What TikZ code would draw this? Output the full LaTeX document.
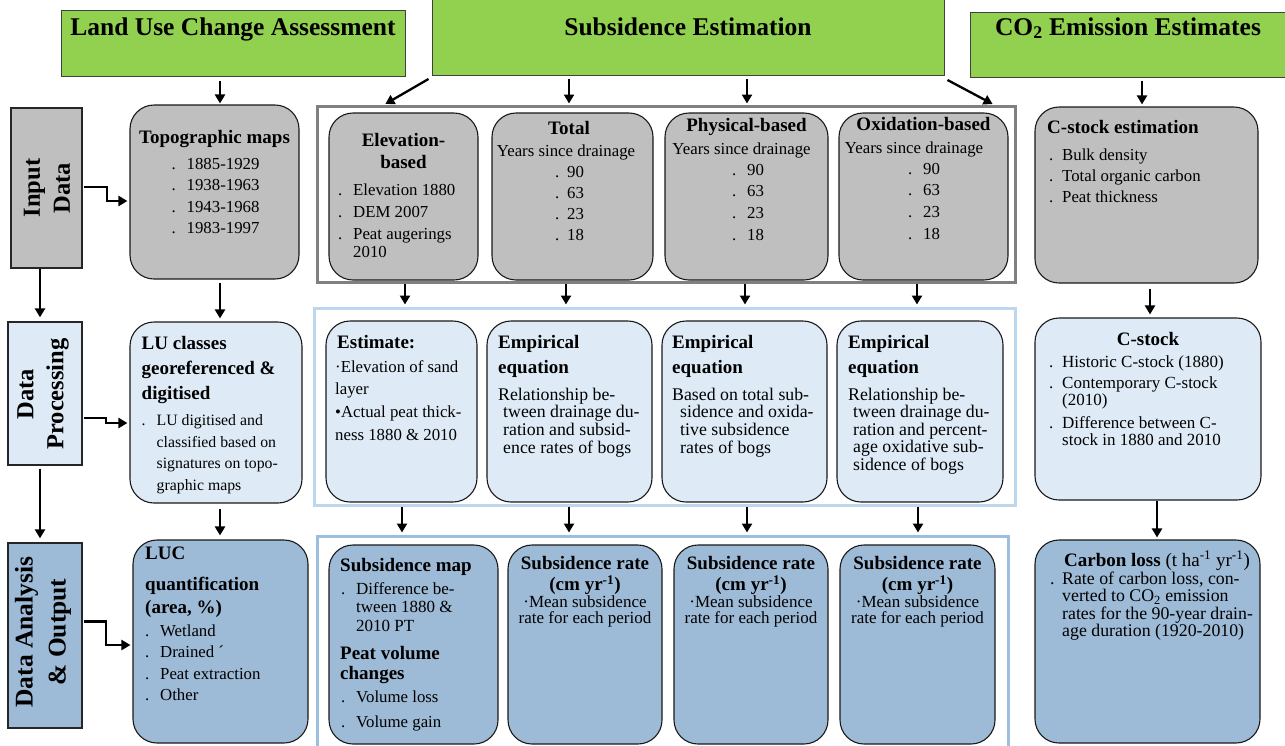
\documentclass[tikz,border=0pt]{standalone}
\usepackage{fontspec}
\setmainfont{Liberation Serif}
\usetikzlibrary{arrows.meta,calc}
\definecolor{hdrgreen}{HTML}{92D050}
\definecolor{boxgray}{HTML}{BFBFBF}
\definecolor{boxlight}{HTML}{DEEBF7}
\definecolor{boxblue}{HTML}{9DBAD6}
\definecolor{framegray}{HTML}{808080}
\definecolor{framelight}{HTML}{BDD7EE}
\definecolor{frameblue}{HTML}{9CBEDF}
\newcommand{\fb}{\fontsize{16.8}{21.5}\selectfont}
\newcommand{\fp}{\fontsize{17.8}{17}\selectfont}
\newcommand{\fsub}{\fontsize{19}{25}\selectfont\bfseries}
\newcommand{\fhead}{\fontsize{25.5}{30}\selectfont\bfseries}
\newcommand{\frow}{\fontsize{24.5}{30}\selectfont\bfseries}
\newcommand{\dotb}[1][15pt]{\makebox[#1][l]{.}}
\newcommand{\TL}[1]{\begin{tabular}[t]{@{}l@{}}#1\end{tabular}}
\newcommand{\TC}[1]{\begin{tabular}[t]{@{}c@{}}#1\end{tabular}}
\begin{document}
\begin{tikzpicture}[x=1pt,y=-1pt,
  hdr/.style={draw=black!75, fill=hdrgreen, line width=1pt, inner sep=0pt},
  lbl/.style={draw=black!85, line width=1.3pt, inner sep=0pt},
  rbox/.style={draw=black!90, rounded corners=24pt, line width=1.1pt, inner sep=0pt},
  graybox/.style={fill=boxgray},
  lightbox/.style={fill=boxlight},
  bluebox/.style={fill=boxblue},
  frm/.style={line width=3pt, inner sep=0pt},
  arr/.style={line width=2.3pt, -{Triangle[length=9pt,width=10pt]}},
  ht/.style={font=\fhead, inner sep=0pt, anchor=base},
  rowt/.style={font=\frow, rotate=90, align=center, inner sep=0pt},
  tl/.style={inner sep=0pt, anchor=base west},
  tc/.style={inner sep=0pt, anchor=base}]
\useasboundingbox (0,0) rectangle (1285,745);
\fill[white] (0,0) rectangle (1285,745);

% headers
\node[hdr, minimum width=344pt, minimum height=66pt] (h1) at (233,43) {};
\node[hdr, minimum width=512pt, minimum height=77pt] (hsub) at (688,37) {};
\node[hdr, minimum width=316pt, minimum height=65pt] (hco2) at (1128,44.5) {};
\node[ht] (h1t) at (233,35) {Land Use Change Assessment};
\node[ht] (hsubt) at (688,35) {Subsidence Estimation};
\node[ht] (hco2t) at (1128,35) {CO\textsubscript{2} Emission Estimates};

% row labels
\node[lbl, graybox, minimum width=71pt, minimum height=160pt] (inp) at (46.5,188) {};
\node[rowt] (inpt) at (47,188) {Input\\Data};
\node[lbl, lightbox, minimum width=74pt, minimum height=143pt] (dp) at (45,393.5) {};
\node[rowt] (dpt) at (43,394) {Data\\Processing};
\node[lbl, bluebox, minimum width=74pt, minimum height=185pt] (da) at (45,635.5) {};
\node[rowt, font=\fontsize{25.5}{33}\selectfont\bfseries] (dat) at (43,632) {Data Analysis\\\& Output};

% left column
\node[rbox, graybox, minimum width=169pt, minimum height=174pt] (topo) at (214.5,192) {};
\node[rbox, lightbox, minimum width=172pt, minimum height=181pt] (lu) at (216,412.5) {};
\node[rbox, bluebox, minimum width=175pt, minimum height=203pt] (luc) at (220.5,641.5) {};

\node[tc, font=\fsub] (topot) at (214.5,143) {Topographic maps};
\node[tl, font=\fb] (topoi) at (171.5,169) {\TL{\dotb 1885-1929\\\dotb 1938-1963\\\dotb 1943-1968\\\dotb 1983-1997}};

\node[tl, font=\fsub] (lut) at (141.5,349.5) {\TL{LU classes\\georeferenced \&\\digitised}};
\node[tl, font=\fontsize{15.8}{21.7}\selectfont] (lui) at (141.5,425.5) {\TL{\dotb LU digitised and\\\hspace*{15pt}classified based on\\\hspace*{15pt}signatures on topo-\\\hspace*{15pt}graphic maps}};

\node[tl, font=\fontsize{19}{23}\selectfont\bfseries] (luct) at (145,559.5) {\TL{LUC\\[8pt]quantification\\(area, \%)}};
\node[tl, font=\fb] (luci) at (145,636) {\TL{\dotb Wetland\\\dotb Drained ´\\\dotb Peat extraction\\\dotb Other}};

% frames
\node[frm, draw=framegray, minimum width=698pt, minimum height=176pt] (fgray) at (666,194) {};
\node[frm, draw=framelight, minimum width=701pt, minimum height=197pt] (flight) at (664.5,406.5) {};
\node[frm, draw=frameblue, minimum width=691pt, minimum height=220pt] (fblue) at (662.5,646) {};

% input boxes
\node[rbox, graybox, minimum width=149pt, minimum height=167pt] (elev) at (403.5,196.5) {};
\node[rbox, graybox, minimum width=161pt, minimum height=167pt] (tot) at (572.5,196.5) {};
\node[rbox, graybox, minimum width=163pt, minimum height=167pt] (phys) at (746.5,196.5) {};
\node[rbox, graybox, minimum width=169pt, minimum height=167pt] (oxi) at (923.5,196.5) {};

\node[tc, font=\fontsize{19}{22}\selectfont\bfseries] (elevt) at (403.5,146) {\TC{Elevation-\\based}};
\node[tl, font=\fontsize{16.8}{22}\selectfont] (elevi) at (338,195) {\TL{\dotb Elevation 1880\\\dotb DEM 2007\\\dotb Peat augerings\\[-4pt]\hspace*{15pt}2010}};

\node[tc, font=\fsub] (tott) at (569,134) {Total};
\node[tc, font=\fb] (toty) at (566,156) {Years since drainage};
\node[tl, font=\fontsize{16.8}{21.3}\selectfont] (toti) at (555,177) {\TL{\dotb[12pt]90\\\dotb[12pt]63\\\dotb[12pt]23\\\dotb[12pt]18}};

\node[tc, font=\fsub] (physt) at (746.5,131.5) {Physical-based};
\node[tc, font=\fb] (physy) at (741.5,154) {Years since drainage};
\node[tl, font=\fontsize{16.8}{21.7}\selectfont] (physi) at (732,175) {\TL{\dotb 90\\\dotb 63\\\dotb 23\\\dotb 18}};

\node[tc, font=\fsub] (oxit) at (923.5,130) {Oxidation-based};
\node[tc, font=\fb] (oxiy) at (914,153) {Years since drainage};
\node[tl, font=\fontsize{16.8}{21.7}\selectfont] (oxii) at (908,174) {\TL{\dotb 90\\\dotb 63\\\dotb 23\\\dotb 18}};

% processing boxes
\node[rbox, lightbox, minimum width=151pt, minimum height=181pt] (est) at (401.5,411.5) {};
\node[rbox, lightbox, minimum width=165pt, minimum height=181pt] (emp1) at (569.5,411.5) {};
\node[rbox, lightbox, minimum width=165pt, minimum height=181pt] (emp2) at (744.5,411.5) {};
\node[rbox, lightbox, minimum width=166pt, minimum height=181pt] (emp3) at (920,411.5) {};

\node[tl, font=\fsub] (estt) at (337,348) {Estimate:};
\node[tl, font=\fontsize{16.8}{22.7}\selectfont] (esti) at (335,372) {\TL{·Elevation of sand\\layer\\•Actual peat thick-\\ness 1880 \& 2010}};

\node[tl, font=\fsub] (e1t) at (498,348) {\TL{Empirical\\equation}};
\node[tl, font=\fp] (e1i) at (498,400.5) {\TL{Relationship be-\\\hspace*{5pt}tween drainage du-\\\hspace*{5pt}ration and subsid-\\\hspace*{5pt}ence rates of bogs}};
\node[tl, font=\fsub] (e2t) at (672,348) {\TL{Empirical\\equation}};
\node[tl, font=\fp] (e2i) at (672,400.5) {\TL{Based on total sub-\\\hspace*{8pt}sidence and oxida-\\\hspace*{8pt}tive subsidence\\\hspace*{8pt}rates of bogs}};
\node[tl, font=\fsub] (e3t) at (848,348) {\TL{Empirical\\equation}};
\node[tl, font=\fp] (e3i) at (848,400.5) {\TL{Relationship be-\\\hspace*{5pt}tween drainage du-\\\hspace*{5pt}ration and percent-\\\hspace*{5pt}age oxidative sub-\\\hspace*{5pt}sidence of bogs}};

% output boxes
\node[rbox, bluebox, minimum width=169pt, minimum height=199pt] (smap) at (413.5,644.5) {};
\node[rbox, bluebox, minimum width=154pt, minimum height=199pt] (rate1) at (585,644.5) {};
\node[rbox, bluebox, minimum width=154pt, minimum height=199pt] (rate2) at (751,644.5) {};
\node[rbox, bluebox, minimum width=155pt, minimum height=199pt] (rate3) at (917.5,644.5) {};

\node[tl, font=\fsub] (smapt) at (340,571.5) {Subsidence map};
\node[tl, font=\fontsize{17}{18.5}\selectfont] (smapi) at (341,594) {\TL{\dotb Difference be-\\\hspace*{15pt}tween 1880 \&\\\hspace*{15pt}2010 PT}};
\node[tl, font=\fontsize{19}{20}\selectfont\bfseries] (smapv) at (340,659.5) {\TL{Peat volume\\changes}};
\node[tl, font=\fb] (smapvi) at (341,702) {\TL{\dotb Volume loss\\[3.5pt]\dotb Volume gain}};

\node[tc, font=\fontsize{19}{20}\selectfont\bfseries] (r1t) at (585,569.5) {\TC{Subsidence rate\\(cm yr\textsuperscript{-1})}};
\node[tc, font=\fontsize{17}{16.5}\selectfont] (r1i) at (585,607) {\TC{·Mean subsidence\\rate for each period}};
\node[tc, font=\fontsize{19}{20}\selectfont\bfseries] (r2t) at (751,569.5) {\TC{Subsidence rate\\(cm yr\textsuperscript{-1})}};
\node[tc, font=\fontsize{17}{16.5}\selectfont] (r2i) at (751,607) {\TC{·Mean subsidence\\rate for each period}};
\node[tc, font=\fontsize{19}{20}\selectfont\bfseries] (r3t) at (917.5,569.5) {\TC{Subsidence rate\\(cm yr\textsuperscript{-1})}};
\node[tc, font=\fontsize{17}{16.5}\selectfont] (r3i) at (917.5,607) {\TC{·Mean subsidence\\rate for each period}};

% right column
\node[rbox, graybox, minimum width=223pt, minimum height=176pt] (cse) at (1146.5,195) {};
\node[rbox, lightbox, minimum width=226pt, minimum height=182pt] (cs) at (1148,409) {};
\node[rbox, bluebox, minimum width=225pt, minimum height=203pt] (cl) at (1147.5,641.5) {};

\node[tl, font=\fsub] (cset) at (1047,133) {C-stock estimation};
\node[tl, font=\fontsize{16.8}{21.3}\selectfont] (csei) at (1049,160) {\TL{\dotb[13pt]Bulk density\\\dotb[13pt]Total organic carbon\\\dotb[13pt]Peat thickness}};

\node[tc, font=\fsub] (cst) at (1148,345.5) {C-stock};
\node[tl, font=\fontsize{17}{17}\selectfont] (csi) at (1049,367) {\TL{\dotb[13pt]Historic C-stock (1880)\\[4.5pt]\dotb[13pt]Contemporary C-stock\\\hspace*{13pt}(2010)\\[6pt]\dotb[13pt]Difference between C-\\\hspace*{13pt}stock in 1880 and 2010}};

\node[tc, font=\fontsize{19}{20}\selectfont] (clt) at (1157,566) {\textbf{Carbon loss} (t ha\textsuperscript{-1} yr\textsuperscript{-1})};
\node[tl, font=\fp] (cli) at (1050,584) {\TL{\dotb[12pt]Rate of carbon loss, con-\\\hspace*{12pt}verted to CO\textsubscript{2} emission\\\hspace*{12pt}rates for the 90-year drain-\\\hspace*{12pt}age duration (1920-2010)}};

% connectors
\coordinate (xl) at (40,0);
\coordinate (xm) at (220,0);
\draw[arr, shorten <=4pt, shorten >=1pt] (xm |- h1.south) -- (xm |- topo.north);
\draw[arr, shorten <=3pt, shorten >=3pt] (xm |- topo.south) -- (xm |- lu.north);
\draw[arr, shorten <=5pt, shorten >=4pt] (xm |- lu.south) -- (xm |- luc.north);
\draw[arr, shorten >=4pt] (xl |- inp.south) -- (xl |- dp.north);
\draw[arr, shorten <=3pt, shorten >=4pt] (xl |- dp.south) -- (xl |- da.north);

\draw[arr] ($(inp.east)+(1,-1)$) -- ++(23,0) -- ++(0,14) -- ($(topo.west)+(-2,9)$);
\draw[arr] ($(dp.east)+(1,24.5)$) -- ++(22,0) -- ++(0,5) -- ($(lu.west)+(-2,10.5)$);
\draw[arr] ($(da.east)+(1,-14)$) -- ++(22,0) -- ++(0,23.5) -- ($(luc.west)+(-2,3.5)$);

\coordinate (xs2) at (569,0);
\coordinate (xs3) at (747,0);
\draw[arr, shorten >=1pt] ($(hsub.south west)+(-3,3)$) -- ($(fgray.north west)+(69,0)$);
\draw[arr, shorten <=3pt, shorten >=1pt] (xs2 |- hsub.south) -- (xs2 |- fgray.north);
\draw[arr, shorten <=3pt, shorten >=1pt] (xs3 |- hsub.south) -- (xs3 |- fgray.north);
\draw[arr, shorten >=1pt] ($(hsub.south east)+(3,4)$) -- ($(fgray.north east)+(-23,0)$);

\coordinate (xp1) at (405,0);
\coordinate (xp2) at (566,0);
\coordinate (xp3) at (745,0);
\coordinate (xp4) at (917,0);
\draw[arr, shorten >=2pt] (xp1 |- fgray.south) -- (xp1 |- flight.north);
\draw[arr, shorten >=2pt] (xp2 |- fgray.south) -- (xp2 |- flight.north);
\draw[arr, shorten >=2pt] (xp3 |- fgray.south) -- (xp3 |- flight.north);
\draw[arr, shorten >=2pt] (xp4 |- fgray.south) -- (xp4 |- flight.north);

\coordinate (xo1) at (402,0);
\coordinate (xo2) at (569,0);
\coordinate (xo3) at (747,0);
\coordinate (xo4) at (918,0);
\draw[arr, shorten >=2pt] (xo1 |- flight.south) -- (xo1 |- fblue.north);
\draw[arr, shorten >=2pt] (xo2 |- flight.south) -- (xo2 |- fblue.north);
\draw[arr, shorten >=2pt] (xo3 |- flight.south) -- (xo3 |- fblue.north);
\draw[arr, shorten >=2pt] (xo4 |- flight.south) -- (xo4 |- fblue.north);

\coordinate (xr1) at (1142,0);
\coordinate (xr2) at (1150,0);
\coordinate (xr3) at (1157,0);
\draw[arr, shorten <=3pt, shorten >=2pt] (xr1 |- hco2.south) -- (xr1 |- cse.north);
\draw[arr, shorten <=5pt, shorten >=3pt] (xr2 |- cse.south) -- (xr2 |- cs.north);
\draw[arr, shorten >=2pt] (xr3 |- cs.south) -- (xr3 |- cl.north);
\end{tikzpicture}
\end{document}
